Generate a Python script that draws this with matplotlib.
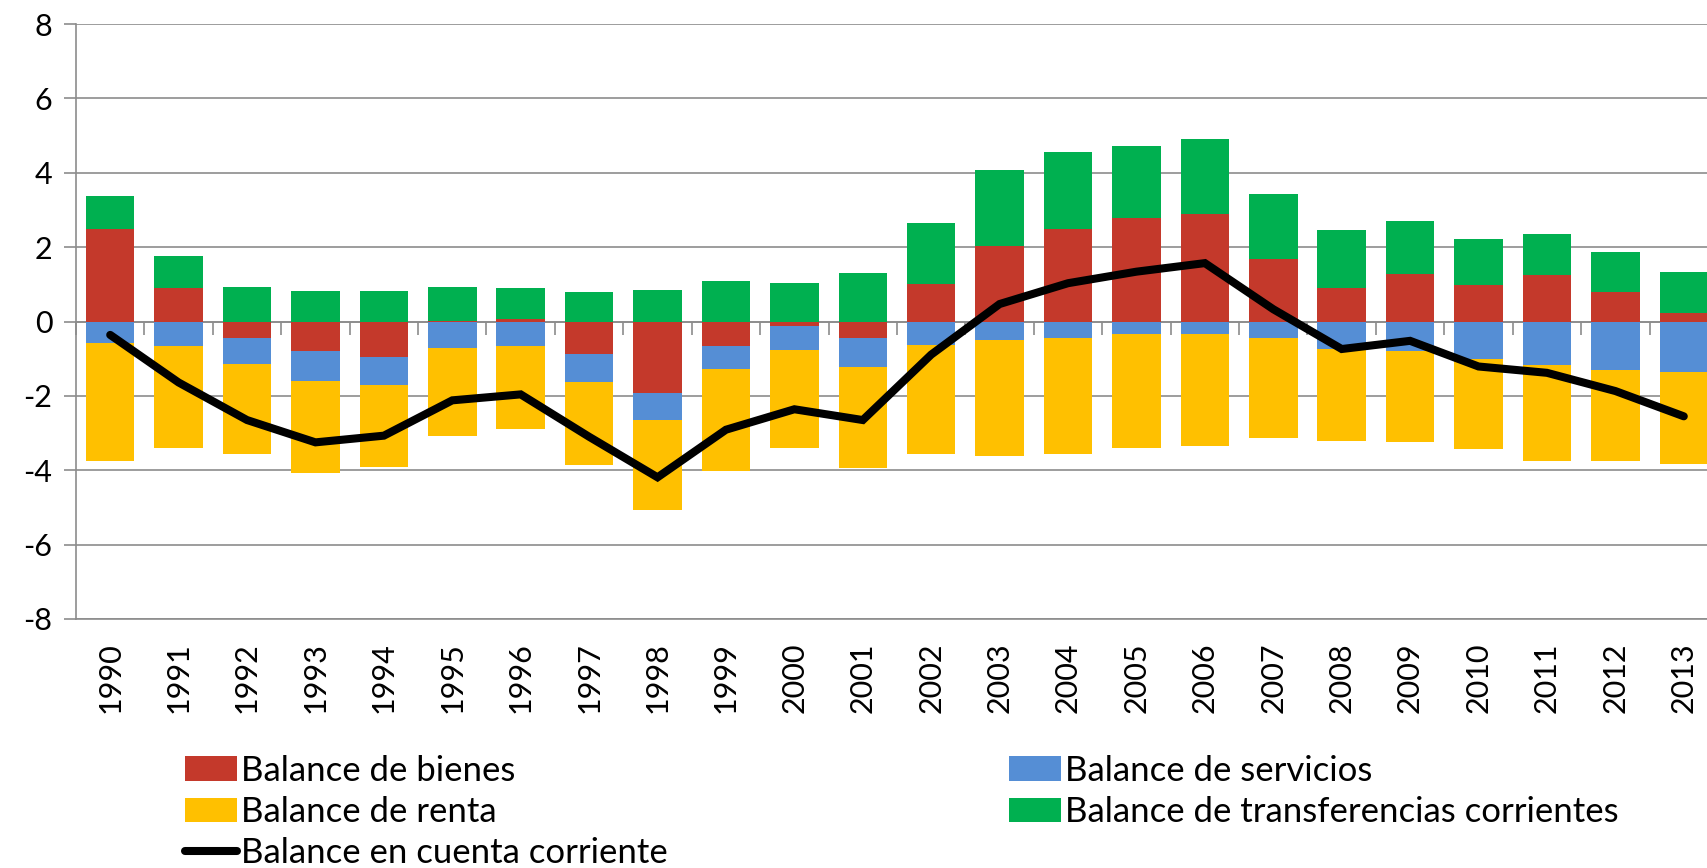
import numpy as np
import matplotlib.pyplot as plt

years = ['1990', '1991', '1992', '1993', '1994', '1995', '1996', '1997',
         '1998', '1999', '2000', '2001', '2002', '2003', '2004', '2005',
         '2006', '2007', '2008', '2009', '2010', '2011', '2012', '2013']

bienes = [2.49, 0.90, -0.45, -0.79, -0.95, 0.02, 0.07, -0.87, -1.92, -0.66, -0.12, -0.45,
          1.00, 2.04, 2.48, 2.77, 2.88, 1.68, 0.90, 1.29, 0.98, 1.25, 0.79, 0.24]
servicios = [-0.57, -0.65, -0.69, -0.82, -0.75, -0.71, -0.67, -0.76, -0.73, -0.63, -0.65, -0.77,
             -0.62, -0.49, -0.44, -0.34, -0.33, -0.45, -0.73, -0.79, -1.00, -1.17, -1.30, -1.35]
renta = [-3.17, -2.74, -2.42, -2.47, -2.21, -2.36, -2.23, -2.24, -2.42, -2.73, -2.62, -2.73,
         -2.94, -3.14, -3.12, -3.07, -3.02, -2.67, -2.48, -2.46, -2.44, -2.59, -2.46, -2.49]
transferencias = [0.88, 0.87, 0.94, 0.83, 0.81, 0.92, 0.82, 0.78, 0.85, 1.08, 1.04, 1.30,
                  1.64, 2.03, 2.08, 1.96, 2.02, 1.76, 1.56, 1.41, 1.24, 1.11, 1.08, 1.09]
cuenta = [-0.36, -1.64, -2.65, -3.25, -3.07, -2.12, -1.96, -3.10, -4.19, -2.91, -2.36, -2.65,
          -0.89, 0.47, 1.03, 1.34, 1.57, 0.33, -0.74, -0.52, -1.21, -1.38, -1.87, -2.55]

GRAY = '#8c8c8c'
FS = 22
LEG_FS = 25


def main():
    plt.rcParams['font.family'] = ['Lato', 'DejaVu Sans']
    plt.rcParams['axes.unicode_minus'] = False

    fig = plt.figure(figsize=(17.08, 8.68), dpi=100)
    # plot area runs a bit past the right edge, like the original
    ax = fig.add_axes([76 / 1708, 249 / 868, 1642 / 1708, 595 / 868])

    x = np.arange(len(years))
    series = [
        (bienes, '#C4392B', 'Balance de bienes'),
        (servicios, '#558ED5', 'Balance de servicios'),
        (renta, '#FFC000', 'Balance de renta'),
        (transferencias, '#00B050', 'Balance de transferencias corrientes'),
    ]

    # stack positives upwards and negatives downwards
    pos_base = np.zeros(len(years))
    neg_base = np.zeros(len(years))
    bars = {}
    for vals, color, label in series:
        vals = np.array(vals)
        base = np.where(vals >= 0, pos_base, neg_base)
        bars[label] = ax.bar(x, vals, 0.71, bottom=base, color=color, label=label, zorder=2)
        pos_base += np.clip(vals, 0, None)
        neg_base += np.clip(vals, None, 0)

    line, = ax.plot(x, cuenta, color='black', lw=5.8, solid_capstyle='round',
                    solid_joinstyle='miter', zorder=4, label='Balance en cuenta corriente')

    ax.set_xlim(-0.5, len(years) - 0.5)
    ax.set_ylim(-8, 8)
    ax.set_yticks(range(-8, 9, 2))
    ax.yaxis.grid(True, color=GRAY, lw=1.2)
    ax.set_axisbelow(True)

    ax.set_xticks(x, years, rotation=90)
    ax.tick_params(axis='x', length=0, pad=17, labelsize=FS)
    ax.tick_params(axis='y', direction='out', length=9, width=1.2, color=GRAY, pad=8, labelsize=FS)
    for side in ['top', 'right']:
        ax.spines[side].set_visible(False)
    for side in ['left', 'bottom']:
        ax.spines[side].set_color(GRAY)
        ax.spines[side].set_linewidth(1.2)

    # category axis sits on zero with ticks between the categories
    sec = ax.secondary_xaxis(0, transform=ax.transData)
    sec.set_xticks(np.arange(-0.5, len(years), 1))
    sec.tick_params(direction='out', length=9, width=1.2, color=GRAY, labelbottom=False)
    sec.spines['bottom'].set_color(GRAY)
    sec.spines['bottom'].set_linewidth(1.2)

    opts = dict(loc='upper left', frameon=False, fontsize=LEG_FS, handlelength=1.5,
                handleheight=0.72, handletextpad=0.1, labelspacing=0.26,
                borderpad=0, borderaxespad=0)
    fig.legend(handles=[bars['Balance de bienes'], bars['Balance de renta'], line],
               bbox_to_anchor=(185 / 1708, 113 / 868), **opts)
    fig.legend(handles=[bars['Balance de servicios'],
                        bars['Balance de transferencias corrientes']],
               bbox_to_anchor=(1009 / 1708, 113 / 868), **opts)

    fig.savefig('out.png', dpi=100)


if __name__ == '__main__':
    main()
